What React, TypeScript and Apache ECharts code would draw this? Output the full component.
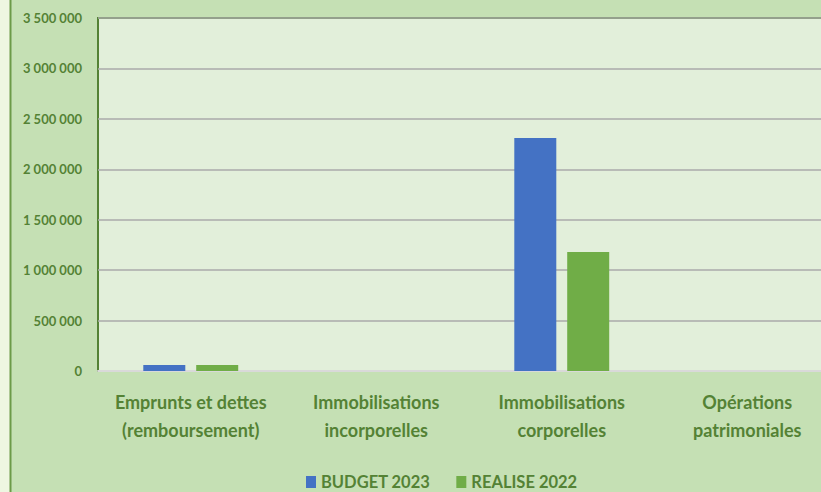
import React, { useEffect, useRef } from "react";
import * as echarts from "echarts";

const categories = [
  "Emprunts et dettes\n(remboursement)",
  "Immobilisations\nincorporelles",
  "Immobilisations\ncorporelles",
  "Opérations\npatrimoniales",
];
const seriesNames = ["BUDGET 2023", "REALISE 2022"];
const budget2023 = [60000, 0, 2310000, 0];
const realise2022 = [60000, 0, 1180000, 0];
const yMin = 0;
const yMax = 3500000;
const yInterval = 500000;

const fmt = (v: number) =>
  String(Math.round(v)).replace(/\B(?=(\d{3})+(?!\d))/g, " ");

export default function App() {
  const ref = useRef<HTMLDivElement>(null);
  useEffect(() => {
    if (!ref.current) return;
    const chart = echarts.init(ref.current, undefined, { renderer: "svg" });
    const green = "#548235";
    const font = "Lato, 'Open Sans', sans-serif";
    chart.setOption({
      animation: false,
      backgroundColor: "#c5e0b4",
      graphic: [
        {
          type: "rect",
          z: -10,
          shape: { x: 0, y: 0, width: 10, height: 492 },
          style: { fill: "#eef6e1" },
        },
        {
          type: "line",
          z: -9,
          shape: { x1: 10.5, y1: 0, x2: 10.5, y2: 492 },
          style: { stroke: "#6c9a48", lineWidth: 2 },
        },
      ],
      legend: {
        data: seriesNames,
        left: 306,
        top: 473,
        padding: 0,
        itemWidth: 10,
        itemHeight: 12,
        itemGap: 26,
        icon: "rect",
        textStyle: {
          color: green,
          fontWeight: "bold",
          fontSize: 16.5,
          lineHeight: 18,
          fontFamily: font,
        },
      },
      grid: {
        left: 98,
        top: 18,
        right: 10,
        bottom: 121,
        show: true,
        backgroundColor: "#e2efda",
        borderColor: green,
        borderWidth: 2,
      },
      xAxis: {
        type: "category",
        data: categories,
        axisTick: { show: false },
        axisLine: { show: true, lineStyle: { color: "#d9d9d9", width: 2 } },
        axisLabel: {
          color: green,
          fontWeight: "bold",
          fontSize: 18,
          lineHeight: 28,
          margin: 17,
          fontFamily: font,
          interval: 0,
        },
      },
      yAxis: {
        type: "value",
        min: yMin,
        max: yMax,
        interval: yInterval,
        axisLine: { show: false },
        axisTick: { show: false },
        splitLine: { lineStyle: { color: "#aaaaaa", width: 1.5 } },
        axisLabel: {
          color: green,
          fontWeight: "bold",
          fontSize: 13,
          margin: 16,
          fontFamily: font,
          formatter: (v: number) => fmt(v),
        },
      },
      series: [
        {
          name: seriesNames[0],
          type: "bar",
          data: budget2023,
          barWidth: 42,
          barGap: "26%",
          itemStyle: { color: "#4472c4" },
        },
        {
          name: seriesNames[1],
          type: "bar",
          data: realise2022,
          barWidth: 42,
          itemStyle: { color: "#70ad47" },
        },
      ],
    });
    return () => chart.dispose();
  }, []);
  return (
    <div
      style={{
        position: "absolute",
        left: 0,
        top: 0,
        width: 821,
        height: 492,
        overflow: "hidden",
      }}
    >
      <div ref={ref} style={{ width: 850, height: 492 }} />
    </div>
  );
}
